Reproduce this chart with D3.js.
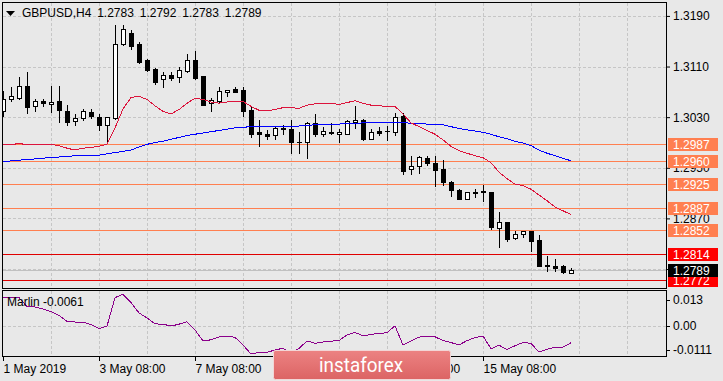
<!DOCTYPE html>
<html>
<head>
<meta charset="utf-8">
<script src="https://cdn.jsdelivr.net/npm/d3@7"></script>
<style>
body { margin: 0; background: #e8e8e8; }
svg { display: block; font-family: "Liberation Sans", Arial, sans-serif; font-size: 12px; }
</style>
</head>
<body>
<script>
// GBPUSD H4 bars, 1 May 08:00 .. 16 May
var opens = [1.3040,1.3058,1.3061,1.3080,1.3047,1.3056,1.3051,1.3056,1.3040,1.3024,
    1.3028,1.3038,1.3030,1.3017,1.3028,1.3146,1.3163,1.3145,1.3120,1.3106,
    1.3090,1.3097,1.3093,1.3103,1.3120,1.3095,1.3052,1.3055,1.3069,1.3075,
    1.3073,1.3041,1.3006,1.3003,1.3002,1.3013,1.3011,1.2991,1.2990,1.3021,
    1.3004,1.3007,1.3003,1.3004,1.3022,1.3025,1.2995,1.3008,1.3008,1.3006,
    1.3032,1.2948,1.2953,1.2966,1.2958,1.2948,1.2927,1.2915,1.2900,1.2912,
    1.2914,1.2911,1.2855,1.2864,1.2839,1.2846,1.2850,1.2836,1.2796,1.2795,
    1.2794,1.2783];
var highs = [1.3071,1.3077,1.3093,1.3101,1.3058,1.3059,1.3079,1.3080,1.3050,1.3035,
    1.3043,1.3043,1.3035,1.3031,1.3176,1.3175,1.3167,1.3148,1.3122,1.3108,
    1.3101,1.3101,1.3110,1.3130,1.3134,1.3095,1.3060,1.3077,1.3073,1.3078,
    1.3078,1.3047,1.3026,1.3010,1.3016,1.3018,1.3026,1.3006,1.3022,1.3035,
    1.3015,1.3021,1.3011,1.3026,1.3048,1.3027,1.3012,1.3014,1.3016,1.3036,
    1.3036,1.2968,1.2969,1.2968,1.2968,1.2963,1.2929,1.2916,1.2912,1.2916,
    1.2923,1.2911,1.2880,1.2864,1.2850,1.2850,1.2850,1.2843,1.2811,1.2806,
    1.2797,1.2792];
var lows = [1.3032,1.3056,1.3059,1.3036,1.3039,1.3047,1.3038,1.3022,1.3018,1.3017,
    1.3026,1.3029,1.3010,1.2989,1.3027,1.3144,1.3138,1.3116,1.3103,1.3082,
    1.3078,1.3089,1.3086,1.3102,1.3090,1.3049,1.3039,1.3052,1.3064,1.3069,
    1.3032,1.2999,1.2985,1.2996,1.2996,1.3003,1.2973,1.2974,1.2966,1.3001,
    1.3001,1.3004,1.2990,1.3004,1.3013,1.2994,1.2995,1.3002,1.2994,1.3002,
    1.2940,1.2940,1.2941,1.2955,1.2921,1.2922,1.2906,1.2900,1.2900,1.2904,
    1.2898,1.2853,1.2825,1.2835,1.2837,1.2841,1.2818,1.2794,1.2787,1.2787,
    1.2783,1.2783];
var closes = [1.3058,1.3063,1.3079,1.3046,1.3055,1.3052,1.3054,1.3041,1.3022,1.3029,
    1.3040,1.3032,1.3017,1.3030,1.3145,1.3169,1.3143,1.3117,1.3105,1.3086,
    1.3096,1.3092,1.3105,1.3121,1.3092,1.3050,1.3057,1.3071,1.3073,1.3070,
    1.3040,1.3003,1.3004,1.3001,1.3013,1.3011,1.2990,1.2990,1.3020,1.3003,
    1.3008,1.3005,1.3006,1.3024,1.3026,1.2996,1.3007,1.3005,1.3008,1.3030,
    1.2945,1.2953,1.2967,1.2957,1.2947,1.2928,1.2915,1.2900,1.2911,1.2910,
    1.2911,1.2857,1.2864,1.2837,1.2846,1.2850,1.2835,1.2795,1.2795,1.2792,
    1.2785,1.2789];

// moving averages (red = fast, blue = slow)
var redMA = [1.2987,1.2987,1.2988,1.2987,1.2987,1.2987,1.2987,1.2985,1.2981,1.2978,
    1.2981,1.2982,1.2984,1.2987,1.3013,1.3043,1.3061,1.3063,1.3058,1.3048,
    1.3039,1.3035,1.3042,1.3052,1.3060,1.3058,1.3054,1.3052,1.3054,1.3055,
    1.3055,1.3047,1.3041,1.3040,1.3042,1.3045,1.3045,1.3044,1.3049,1.3051,
    1.3052,1.3052,1.3050,1.3053,1.3056,1.3052,1.3049,1.3048,1.3047,1.3047,
    1.3035,1.3021,1.3015,1.3009,1.3003,1.2994,1.2984,1.2977,1.2973,1.2969,
    1.2966,1.2958,1.2943,1.2933,1.2924,1.2922,1.2916,1.2907,1.2898,1.2888,
    1.2882,1.2876];
var blueMA = [1.2959,1.2961,1.2962,1.2963,1.2964,1.2965,1.2967,1.2967,1.2968,1.2969,
    1.2969,1.2970,1.2970,1.2972,1.2974,1.2976,1.2978,1.2983,1.2987,1.2990,
    1.2992,1.2995,1.2998,1.3001,1.3003,1.3005,1.3007,1.3009,1.3011,1.3013,
    1.3014,1.3015,1.3015,1.3015,1.3015,1.3015,1.3015,1.3016,1.3017,1.3018,
    1.3018,1.3019,1.3019,1.3020,1.3020,1.3021,1.3021,1.3021,1.3022,1.3022,
    1.3022,1.3020,1.3020,1.3019,1.3018,1.3018,1.3015,1.3012,1.3010,1.3008,
    1.3006,1.3003,1.2999,1.2996,1.2992,1.2989,1.2985,1.2978,1.2973,1.2969,
    1.2965,1.2961];

// Marlin oscillator
var marlin = [0.0105,0.0104,0.0104,0.0071,0.0070,0.0062,0.0053,0.0039,0.0017,0.0015,
    0.0014,0.0006,-0.0009,0.0000,0.0104,0.0116,0.0086,0.0048,0.0030,0.0008,
    0.0007,0.0000,0.0007,0.0016,-0.0014,-0.0054,-0.0050,-0.0040,-0.0036,-0.0041,
    -0.0069,-0.0102,-0.0096,-0.0096,-0.0087,-0.0081,-0.0098,-0.0082,-0.0054,-0.0063,
    -0.0058,-0.0055,-0.0053,-0.0032,-0.0023,-0.0036,-0.0030,-0.0027,-0.0024,0.0001,
    -0.0069,-0.0055,-0.0040,-0.0039,-0.0039,-0.0053,-0.0060,-0.0069,-0.0053,-0.0042,
    -0.0036,-0.0083,-0.0070,-0.0085,-0.0072,-0.0060,-0.0063,-0.0095,-0.0085,-0.0077,
    -0.0077,-0.0061];

var coralLevels = [1.2987, 1.2960, 1.2925, 1.2887, 1.2852];
var redLevels = [1.2814, 1.2772];
var priceTicks = [1.3190, 1.3110, 1.3030, 1.2950, 1.2870, 1.2790];
var marlinTicks = [0.013, 0.00, -0.0111];
var marlinTickText = ["0.013", "0.00", "-0.0111"];
var timeIdx = [0, 12, 24, 36, 48, 60];
var timeLabels = ["1 May 2019", "3 May 08:00", "7 May 08:00", "9 May 08:00", "13 May 08:00", "15 May 08:00"];

var W = 723, H = 381;
var n = opens.length;
var last = n - 1;

var x = d3.scaleLinear().domain([0, 71]).range([3, 571]);
var y = d3.scaleLinear().domain([1.2760, 1.3212]).range([288, 2]);
var yM = d3.scaleLinear().domain([-0.0111, 0.013]).range([356.5, 290.5]);

function px(v) { return Math.round(v) + 0.5; }

var svg = d3.select("body").append("svg")
    .attr("width", W)
    .attr("height", H);

svg.append("rect").attr("width", W).attr("height", H).attr("fill", "#e8e8e8");

var defs = svg.append("defs");
defs.append("clipPath").attr("id", "clipMain")
    .append("rect").attr("x", 3).attr("y", 3).attr("width", 663).attr("height", 285);
defs.append("clipPath").attr("id", "clipInd")
    .append("rect").attr("x", 3).attr("y", 291).attr("width", 663).attr("height", 65);

var main = svg.append("g").attr("clip-path", "url(#clipMain)");
var ind = svg.append("g").attr("clip-path", "url(#clipInd)");

// grid
var vgrid = d3.range(6, 84, 6);
main.selectAll(".vg").data(vgrid).enter().append("line")
    .attr("x1", function (d) { return px(x(d)); })
    .attr("x2", function (d) { return px(x(d)); })
    .attr("y1", 3).attr("y2", 288)
    .attr("stroke", "#c6c6c6").attr("stroke-dasharray", "3,2");
main.selectAll(".hg").data(priceTicks).enter().append("line")
    .attr("x1", 3).attr("x2", 666)
    .attr("y1", function (d) { return px(y(d)); })
    .attr("y2", function (d) { return px(y(d)); })
    .attr("stroke", "#c6c6c6").attr("stroke-dasharray", "3,2");
ind.selectAll(".vg").data(vgrid).enter().append("line")
    .attr("x1", function (d) { return px(x(d)); })
    .attr("x2", function (d) { return px(x(d)); })
    .attr("y1", 291).attr("y2", 356)
    .attr("stroke", "#c6c6c6").attr("stroke-dasharray", "3,2");
ind.append("line")
    .attr("x1", 3).attr("x2", 666)
    .attr("y1", px(yM(0))).attr("y2", px(yM(0)))
    .attr("stroke", "#c6c6c6").attr("stroke-dasharray", "3,2");

// horizontal levels
main.selectAll(".coral").data(coralLevels).enter().append("line")
    .attr("x1", 3).attr("x2", 666)
    .attr("y1", function (d) { return px(y(d)); })
    .attr("y2", function (d) { return px(y(d)); })
    .attr("stroke", "#ff7f50");
main.selectAll(".redlvl").data(redLevels).enter().append("line")
    .attr("x1", 3).attr("x2", 666)
    .attr("y1", function (d) { return px(y(d)); })
    .attr("y2", function (d) { return px(y(d)); })
    .attr("stroke", "#e00000");
// bid line
main.append("line")
    .attr("x1", 3).attr("x2", 666)
    .attr("y1", px(y(closes[last]))).attr("y2", px(y(closes[last])))
    .attr("stroke", "#c0c0c0");

// candles
var bars = d3.range(n);
main.selectAll(".wick").data(bars).enter().append("line")
    .attr("x1", function (i) { return px(x(i)); })
    .attr("x2", function (i) { return px(x(i)); })
    .attr("y1", function (i) { return Math.round(y(highs[i])); })
    .attr("y2", function (i) { return Math.round(y(lows[i])) + 1; })
    .attr("stroke", "#000");
bars.forEach(function (i) {
    var cx = Math.round(x(i));
    var top = Math.round(y(Math.max(opens[i], closes[i])));
    var bot = Math.round(y(Math.min(opens[i], closes[i])));
    if (bot - top < 1) {
        main.append("line")
            .attr("x1", cx - 2).attr("x2", cx + 3)
            .attr("y1", top + 0.5).attr("y2", top + 0.5)
            .attr("stroke", "#000");
    } else {
        main.append("rect")
            .attr("x", cx - 1.5).attr("y", top + 0.5)
            .attr("width", 4).attr("height", bot - top)
            .attr("fill", closes[i] >= opens[i] ? "#fff" : "#000")
            .attr("stroke", "#000");
    }
});

// moving averages
var line = d3.line()
    .x(function (d, i) { return x(i); })
    .y(function (d) { return y(d); });
main.append("path").datum(blueMA)
    .attr("d", line).attr("fill", "none")
    .attr("stroke", "#0000ff").attr("shape-rendering", "crispEdges");
main.append("path").datum(redMA)
    .attr("d", line).attr("fill", "none")
    .attr("stroke", "#dc143c").attr("shape-rendering", "crispEdges");

// indicator
var mline = d3.line()
    .x(function (d, i) { return x(i); })
    .y(function (d) { return yM(d); });
ind.append("path").datum(marlin)
    .attr("d", mline).attr("fill", "none")
    .attr("stroke", "#8b008b").attr("shape-rendering", "crispEdges");

// frames
svg.append("rect").attr("x", 2.5).attr("y", 2.5).attr("width", 664).attr("height", 286)
    .attr("fill", "none").attr("stroke", "#000");
svg.append("rect").attr("x", 2.5).attr("y", 290.5).attr("width", 664).attr("height", 66)
    .attr("fill", "none").attr("stroke", "#000");

// price axis
var yAxis = svg.append("g")
    .attr("transform", "translate(666,0)")
    .call(d3.axisRight(y).tickValues(priceTicks).tickSize(4).tickPadding(3)
        .tickFormat(d3.format(".4f")));
yAxis.select(".domain").remove();
yAxis.selectAll("text").attr("font-family", "Liberation Sans, Arial, sans-serif")
    .attr("font-size", 12).attr("fill", "#000");

// marlin axis labels (inset at the panel edges like the terminal does)
var mAxis = svg.append("g");
marlinTicks.forEach(function (v, k) {
    var ty = yM(v);
    if (k === 0) ty += 9;
    if (k === marlinTicks.length - 1) ty -= 6.5;
    mAxis.append("line").attr("x1", 666).attr("x2", 670)
        .attr("y1", px(ty)).attr("y2", px(ty)).attr("stroke", "#000");
    mAxis.append("text").attr("x", 673).attr("y", ty + 4.3)
        .attr("fill", "#000").text(marlinTickText[k]);
});

// time axis
var xAxis = svg.append("g")
    .attr("transform", "translate(0,357)")
    .call(d3.axisBottom(x).tickValues(timeIdx).tickSize(4).tickPadding(3)
        .tickFormat(function (d) { return timeLabels[timeIdx.indexOf(d)]; }));
xAxis.select(".domain").remove();
xAxis.selectAll("text").attr("text-anchor", "start")
    .attr("font-family", "Liberation Sans, Arial, sans-serif")
    .attr("font-size", 12).attr("fill", "#000");

// price labels
function priceTag(p, bg, fg) {
    var cy = Math.round(y(p));
    svg.append("rect").attr("x", 668).attr("y", cy - 6)
        .attr("width", 50).attr("height", 13).attr("fill", bg);
    svg.append("text").attr("x", 673).attr("y", cy + 5)
        .attr("fill", fg).text(p.toFixed(4));
}
coralLevels.forEach(function (p) { priceTag(p, "#ff7f50", "#fff"); });
priceTag(redLevels[0], "#ff0000", "#fff");
priceTag(redLevels[1], "#ff0000", "#fff");
priceTag(closes[last], "#000", "#fff");

// title
svg.append("path").attr("d", "M6,11L15,11L10.5,16Z").attr("fill", "#000");
svg.append("text").attr("x", 22).attr("y", 16.5)
    .attr("fill", "#000").attr("word-spacing", "2.5px")
    .text("GBPUSD,H4 " + [opens[last], highs[last], lows[last], closes[last]]
        .map(function (v) { return v.toFixed(4); }).join(" "));
svg.append("text").attr("x", 7).attr("y", 306)
    .attr("fill", "#000").text("Marlin " + marlin[last].toFixed(4));

// watermark
var grad = defs.append("linearGradient").attr("id", "logoGrad")
    .attr("x1", 0).attr("y1", 0).attr("x2", 0).attr("y2", 1);
grad.append("stop").attr("offset", "0").attr("stop-color", "#ec8282");
grad.append("stop").attr("offset", "1").attr("stop-color", "#dc6464");
svg.append("rect").attr("x", 273.5).attr("y", 350.5).attr("width", 177).attr("height", 29)
    .attr("rx", 2).attr("fill", "url(#logoGrad)").attr("stroke", "#f2d6d6");
svg.append("text").attr("x", 319).attr("y", 372)
    .attr("font-family", "Roboto, Open Sans, sans-serif").attr("font-size", 21)
    .attr("textLength", 84).attr("lengthAdjust", "spacingAndGlyphs")
    .attr("fill", "#fff").text("instaforex");
</script>
</body>
</html>
